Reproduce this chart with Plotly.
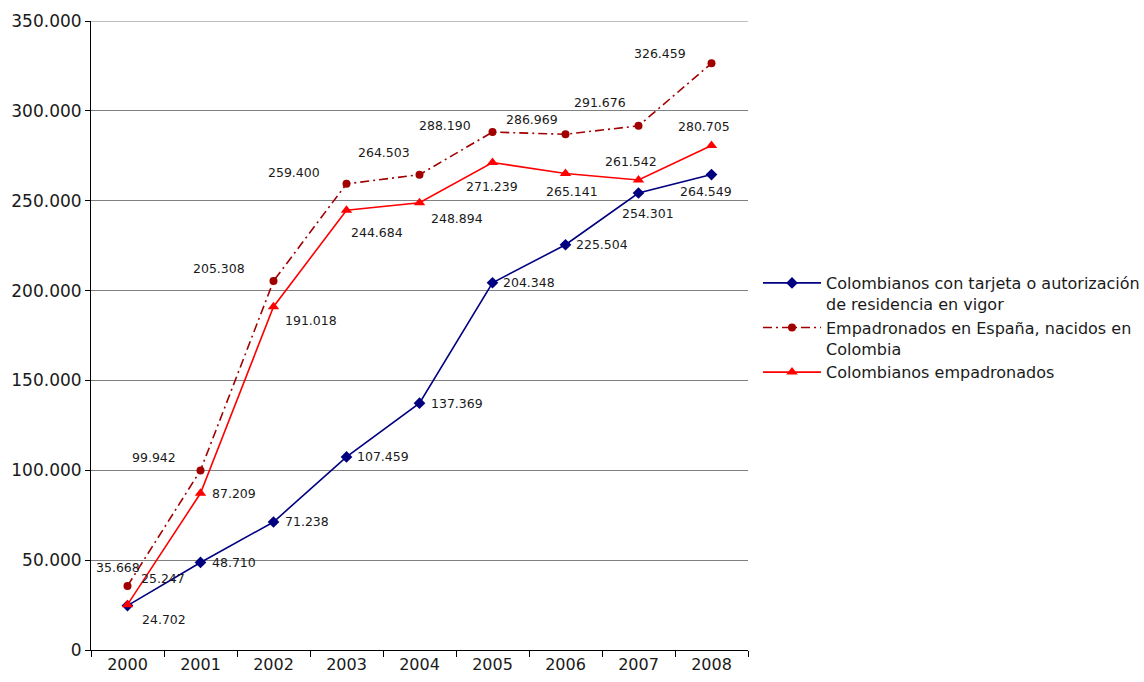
import plotly.graph_objects as go

years = ["2000", "2001", "2002", "2003", "2004", "2005", "2006", "2007", "2008"]

tarjeta = [24702, 48710, 71238, 107459, 137369, 204348, 225504, 254301, 264549]
nacidos = [35668, 99942, 205308, 259400, 264503, 288190, 286969, 291676, 326459]
empadronados = [25247, 87209, 191018, 244684, 248894, 271239, 265141, 261542, 280705]

names = [
    "Colombianos con tarjeta o autorización<br>de residencia en vigor",
    "Empadronados en España, nacidos en<br>Colombia",
    "Colombianos empadronados",
]

y_ticks = [0, 50000, 100000, 150000, 200000, 250000, 300000, 350000]

# label offsets in pixels (dx, dy with dy positive = down)
off_tarjeta = [(36, 14), (33, 0), (33, 0), (36, 0), (37, 0), (36, 0), (36, 0), (9, 21), (-6, 17)]
off_nacidos = [(-10, -18), (-47, -13), (-55, -13), (-53, -11), (-36, -22), (-48, -7), (-34, -15), (-39, -23), (-52, -10)]
off_empadronados = [(35, -26), (33, 0), (37, 14), (30, 22), (37, 16), (-1, 24), (6, 18), (-8, -18), (-8, -19)]


def fmt(v):
    return f"{v:,}".replace(",", ".")


fig = go.Figure()

fig.add_trace(go.Scatter(
    x=years, y=tarjeta, name=names[0], mode="lines+markers",
    line=dict(color="#000080", width=1.6),
    marker=dict(symbol="diamond", size=9, color="#000080"),
))
fig.add_trace(go.Scatter(
    x=years, y=nacidos, name=names[1], mode="lines+markers",
    line=dict(color="#A00000", width=1.6, dash="9px,4px,2px,4px"),
    marker=dict(symbol="circle", size=8, color="#A00000"),
))
fig.add_trace(go.Scatter(
    x=years, y=empadronados, name=names[2], mode="lines+markers",
    line=dict(color="#FF0000", width=1.6),
    marker=dict(symbol="triangle-up", size=10, color="#FF0000"),
))

annotations = []
for series, offs in ((tarjeta, off_tarjeta), (nacidos, off_nacidos), (empadronados, off_empadronados)):
    for i, (v, (dx, dy)) in enumerate(zip(series, offs)):
        annotations.append(dict(
            x=i, y=v, xref="x", yref="y", text=fmt(v), showarrow=False,
            xshift=dx, yshift=-dy,
            font=dict(family="DejaVu Sans, Verdana, sans-serif", size=12.5, color="#1a1a1a"),
        ))

fig.update_layout(
    width=1144, height=682,
    margin=dict(l=91, r=396, t=21, b=32, autoexpand=False),
    paper_bgcolor="white", plot_bgcolor="white",
    separators=",.",
    font=dict(family="DejaVu Sans, Verdana, sans-serif", size=16, color="#1a1a1a"),
    showlegend=True,
    legend=dict(
        xref="container", yref="container",
        x=758 / 1144, y=1 - 266 / 682, xanchor="left", yanchor="top",
        font=dict(size=16, color="#1a1a1a"),
        valign="top", itemwidth=58, tracegroupgap=3,
        bgcolor="rgba(0,0,0,0)",
    ),
    annotations=annotations,
    shapes=[dict(
        type="line", xref="paper", yref="y", x0=0, x1=1,
        y0=y_ticks[-1], y1=y_ticks[-1], line=dict(color="#808080", width=1),
        layer="below",
    )],
)

fig.update_xaxes(
    type="category", categoryorder="array", categoryarray=years,
    range=[-0.5, len(years) - 0.5], autorange=False, automargin=False,
    showgrid=False, showline=True, linecolor="#000000", linewidth=1,
    ticks="outside", tickson="boundaries", ticklen=6, tickcolor="#000000",
    tickfont=dict(size=16), tickangle=0, zeroline=False,
)
fig.update_yaxes(
    range=[0, 350000], tickvals=y_ticks, tickformat=",d", automargin=False,
    showgrid=True, gridcolor="#808080", gridwidth=1,
    showline=True, linecolor="#000000", linewidth=1,
    ticks="outside", ticklen=5, tickcolor="#000000",
    zeroline=False, tickfont=dict(size=17),
)

fig.write_html("out.html", config={"displayModeBar": False},
               post_script="document.body.style.margin='0';")
